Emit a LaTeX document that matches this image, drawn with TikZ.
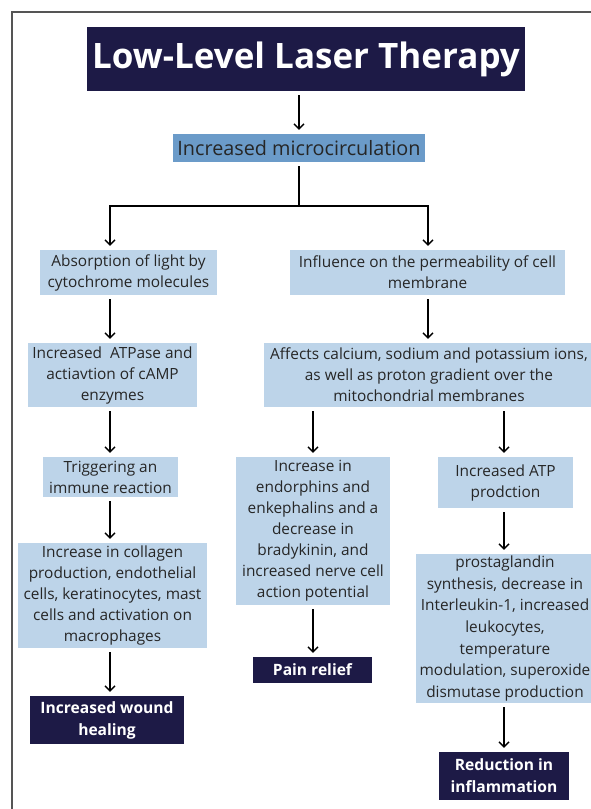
\documentclass[tikz,border=0pt]{standalone}
\usepackage{fontspec}
\setmainfont{Open Sans}
\usetikzlibrary{arrows.meta}
\definecolor{navy}{HTML}{1D1A46}
\definecolor{midblue}{HTML}{6B9BC9}
\definecolor{lightblue}{HTML}{BDD4E9}
\definecolor{txt}{HTML}{262626}
\definecolor{frame}{HTML}{555555}
\tikzset{
  lbox/.style={fill=lightblue, text=txt, align=center, inner sep=0pt,
    font=\fontsize{15.4}{21}\selectfont},
  dbox/.style={fill=navy, text=white, align=center, inner sep=0pt,
    font=\fontsize{15.6}{22}\selectfont\bfseries},
  arr/.style={line width=1.4pt, -{Straight Barb[length=5pt,width=10pt,line width=1.4pt]},
    shorten <=4pt, shorten >=4pt},
  ln/.style={line width=1.4pt}
}
\begin{document}
\begin{tikzpicture}[x=1pt,y=-1pt]
\useasboundingbox (0,0) rectangle (591,809);
\fill[white] (0,0) rectangle (591,809);
\draw[frame, line width=1.4pt] (12,809) -- (12,12) -- (595,12);

\node[fill=navy, text=white, inner sep=0pt, minimum width=438pt, minimum height=64pt,
  font=\fontsize{35}{40}\selectfont\bfseries] (title) at (306,59) {Low-Level Laser Therapy};
\node[fill=midblue, text=txt, inner sep=0pt, minimum width=252pt, minimum height=28pt,
  font=\fontsize{19.8}{22}\selectfont] (micro) at (299,148) {Increased microcirculation};

\node[lbox, minimum width=177pt, minimum height=45pt] (absorb) at (128.5,272.5)
  {Absorption of light by\\cytochrome molecules};
\node[lbox, minimum width=275pt, minimum height=45pt] (influ) at (427.5,272.5)
  {Influence on the permeability of cell\\membrane};
\node[lbox, minimum width=169pt, minimum height=64pt] (atpase) at (112.5,375)
  {Increased~~ATPase and\\actiavtion of cAMP\\enzymes};
\node[lbox, minimum width=330pt, minimum height=64pt] (affects) at (429,375)
  {Affects calcium, sodium and potassium ions,\\as well as proton gradient over the\\mitochondrial membranes};
\node[lbox, minimum width=135pt, minimum height=40pt] (trig) at (110.5,477)
  {Triggering an\\immune reaction};
\node[lbox, minimum width=154pt, minimum height=148pt] (endo) at (313,531)
  {Increase in\\endorphins and\\enkephalins and a\\decrease in\\bradykinin, and\\increased nerve cell\\action potential};
\node[lbox, minimum width=135pt, minimum height=51pt] (atp) at (505.5,482.5)
  {Increased ATP\\prodction};
\node[lbox, minimum width=189pt, minimum height=105pt] (coll) at (112.5,595.5)
  {Increase in collagen\\production, endothelial\\cells, keratinocytes, mast\\cells and activation on\\macrophages};
\node[lbox, minimum width=178pt, minimum height=149pt, font=\fontsize{15.4}{21.6}\selectfont] (prosta) at (505,628.5)
  {prostaglandin\\synthesis, decrease in\\Interleukin-1, increased\\leukocytes,\\temperature\\modulation, superoxide\\dismutase production};
\node[dbox, minimum width=119pt, minimum height=26pt] (pain) at (312.5,670)
  {Pain relief};
\node[dbox, minimum width=154pt, minimum height=48pt] (wound) at (107,720)
  {Increased wound\\healing};
\node[dbox, minimum width=130pt, minimum height=48pt] (reduce) at (504,776)
  {Reduction in\\inflammation};

\draw[arr] (title.south -| micro.north) -- (micro.north);
\coordinate (split) at (299,206);
\draw[ln, shorten <=4pt] (micro.south) -- (split);
\draw[arr, shorten <=0pt] (split) -| (absorb.north -| 110,0);
\draw[arr, shorten <=0pt] (split) -| (influ.north -| 428,0);
\draw[arr] (absorb.south -| 110,0) -- (atpase.north -| 110,0);
\draw[arr] (influ.south -| 428,0) -- (affects.north -| 428,0);
\draw[arr] (atpase.south -| 110,0) -- (trig.north -| 110,0);
\draw[arr] (affects.south -| endo.north) -- (endo.north);
\draw[arr] (affects.south -| 504,0) -- (atp.north -| 504,0);
\draw[arr] (trig.south -| 110,0) -- (coll.north -| 110,0);
\draw[arr] (atp.south -| 504,0) -- (prosta.north -| 504,0);
\draw[arr] (endo.south) -- (pain.north -| endo.south);
\draw[arr] (coll.south -| 110,0) -- (wound.north -| 110,0);
\draw[arr] (prosta.south -| 504,0) -- (reduce.north -| 504,0);
\end{tikzpicture}
\end{document}
